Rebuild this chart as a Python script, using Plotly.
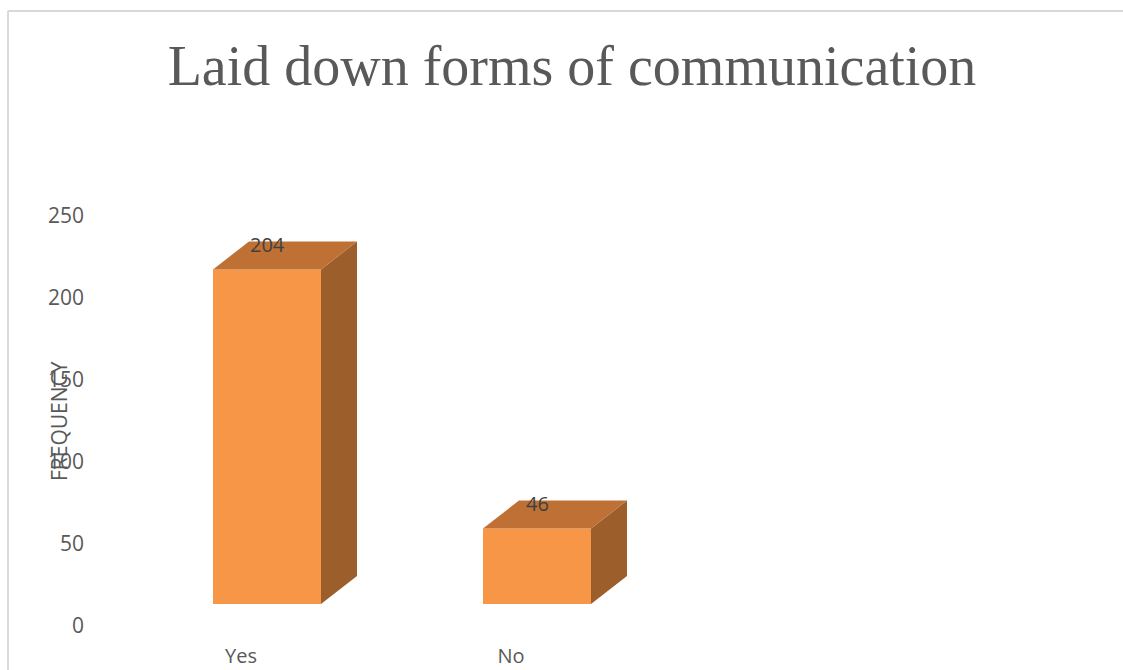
import plotly.graph_objects as go

# Survey responses
categories = ["Yes", "No"]
frequency = [204, 46]
y_ticks = [0, 50, 100, 150, 200, 250]

title_text = "Laid down forms of communication"
y_title = "FREQUENCY"

# Colours of the three visible faces of each 3-D column
FRONT = "#F79646"
TOP = "#BF7035"
SIDE = "#9C5E2A"
TEXT = "#595959"

W, H = 1123, 670
ML, MR, MT, MB = 100, 0, 150, 28
plot_h = H - MT - MB
px_per_unit = 1.64          # vertical scale of both value axes
px_per_cat = 270            # horizontal distance between categories

# Category positions and column geometry (in x-axis units)
pos = list(range(len(categories)))
bar_off = -28 / px_per_cat
bar_w = 108 / px_per_cat
depth_x = 36 / px_per_cat
depth_y = 28 / px_per_unit

# Visible value axis: 0 sits 16px above the plot bottom
y_rng = [-(16) / px_per_unit, (plot_h - 16) / px_per_unit]
# Axis carrying the columns: floor of the projected box is 22px higher
y2_rng = [-(38) / px_per_unit, (plot_h - 38) / px_per_unit]
x_left = -(241 - ML) / px_per_cat
x_rng = [x_left, x_left + (W - ML - MR) / px_per_cat]

fig = go.Figure()

# Empty trace so the base (labelled) value axis is laid out
fig.add_trace(go.Scatter(x=[], y=[], yaxis="y", hoverinfo="skip", showlegend=False))

# Front faces
fig.add_trace(go.Bar(
    x=pos, y=frequency, width=bar_w, offset=bar_off, yaxis="y2",
    marker=dict(color=FRONT, line=dict(width=0)),
    hoverinfo="skip", showlegend=False,
))

# Side and top faces computed from each value
for p, v in zip(pos, frequency):
    x0 = p + bar_off
    x1 = x0 + bar_w
    fig.add_trace(go.Scatter(
        x=[x1, x1, x1 + depth_x, x1 + depth_x, x1],
        y=[0, v, v + depth_y, depth_y, 0],
        yaxis="y2", mode="lines", fill="toself", fillcolor=SIDE,
        line=dict(width=0, color=SIDE), hoverinfo="skip", showlegend=False,
    ))
    fig.add_trace(go.Scatter(
        x=[x0, x1, x1 + depth_x, x0 + depth_x, x0],
        y=[v, v, v + depth_y, v + depth_y, v],
        yaxis="y2", mode="lines", fill="toself", fillcolor=TOP,
        line=dict(width=0, color=TOP), hoverinfo="skip", showlegend=False,
    ))
    fig.add_annotation(
        x=x0 + bar_w / 2, y=v + depth_y, xref="x", yref="y2",
        text=str(v), showarrow=False, yanchor="middle", yshift=-3,
        font=dict(family="Open Sans", size=20, color="#404040"),
    )

# Value-axis title, rotated
fig.add_annotation(
    x=(59 - ML) / (W - ML - MR), y=(H - MB - 421) / plot_h,
    xref="paper", yref="paper", text=y_title, textangle=-90,
    showarrow=False, xanchor="center", yanchor="middle",
    font=dict(family="Open Sans", size=21, color=TEXT),
)

# Chart-area border (top and left edges)
bx = (8 - ML) / (W - ML - MR)
by = (H - MB - 11) / plot_h
fig.add_shape(type="line", xref="paper", yref="paper",
              x0=bx, y0=by, x1=2, y1=by, line=dict(color="#D9D9D9", width=2))
fig.add_shape(type="line", xref="paper", yref="paper",
              x0=bx, y0=by, x1=bx, y1=-1, line=dict(color="#D9D9D9", width=2))

fig.update_layout(
    width=W, height=H,
    margin=dict(l=ML, r=MR, t=MT, b=MB),
    paper_bgcolor="white", plot_bgcolor="white",
    showlegend=False,
    title=dict(
        text=title_text, xref="container", yref="container",
        x=572 / W, y=1 - 65 / H, xanchor="center", yanchor="middle",
        font=dict(family="Liberation Serif", size=56, color=TEXT),
    ),
    xaxis=dict(
        range=x_rng, tickvals=pos, ticktext=categories,
        showgrid=False, zeroline=False, showline=False, ticks="",
        tickfont=dict(family="Open Sans", size=20, color=TEXT),
    ),
    yaxis=dict(
        range=y_rng, tickvals=y_ticks, tickmode="array",
        showgrid=False, zeroline=False, showline=False, ticks="",
        tickfont=dict(family="Open Sans", size=21, color=TEXT),
        ticklabelstandoff=15,
    ),
    yaxis2=dict(range=y2_rng, overlaying="y", visible=False),
)

fig.write_html("out.html")
